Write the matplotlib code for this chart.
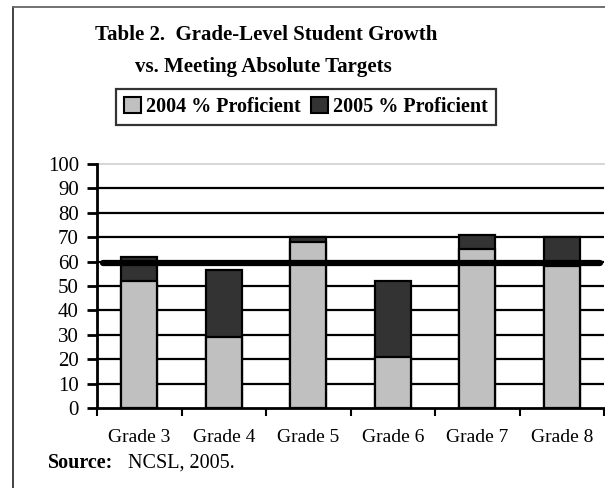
import matplotlib
matplotlib.use("Agg")
import matplotlib.pyplot as plt
from matplotlib.lines import Line2D
from matplotlib.patches import Patch
import numpy as np

categories = ["Grade 3", "Grade 4", "Grade 5", "Grade 6", "Grade 7", "Grade 8"]
pct_2004 = [52, 29, 68, 21, 65, 58]
pct_2005 = [62, 56.5, 70, 52, 71, 70]
target = 59.5
yticks = [0, 10, 20, 30, 40, 50, 60, 70, 80, 90, 100]

light = "#c0c0c0"
dark = "#333333"
serif = ["Liberation Serif", "DejaVu Serif"]
plt.rcParams["font.family"] = serif

W, H = 605, 488
fig = plt.figure(figsize=(W / 100, H / 100), dpi=100)

ax = fig.add_axes([97 / W, (H - 408) / H, (604 - 97) / W, (408 - 164) / H])
x = np.arange(len(categories))
ax.set_xlim(-0.5, len(categories) - 0.5)
ax.set_ylim(0, 100)

# gridlines
for t in yticks[1:-1]:
    ax.axhline(t, color="black", lw=1.6, zorder=1)
ax.axhline(100, color="#d0d0d0", lw=1.2, zorder=1, clip_on=False)

bw = 0.43
ax.bar(x, pct_2005, width=bw, color=dark, edgecolor="black", lw=1.6, zorder=2)
ax.bar(x, pct_2004, width=bw, color=light, edgecolor="black", lw=1.6, zorder=3)
ax.plot([-0.43, len(categories) - 0.55], [target, target], color="black", lw=4.5,
        solid_capstyle="round", zorder=4)

for s in ["top", "right"]:
    ax.spines[s].set_visible(False)
for s in ["left", "bottom"]:
    ax.spines[s].set_linewidth(2)
    ax.spines[s].set_zorder(5)

ax.set_yticks(yticks)
ax.set_yticklabels([str(t) for t in yticks], fontsize=15)
ax.tick_params(axis="y", direction="out", length=7, width=2, pad=6)
ax.set_xticks(np.arange(len(categories) + 1) - 0.5, minor=False)
ax.set_xticklabels([])
ax.tick_params(axis="x", direction="out", length=6, width=1.5)
for xi, c in zip(x, categories):
    ax.text(xi, -8.5, c, ha="center", va="top", fontsize=14, transform=ax.transData)

# frame
fig.add_artist(Line2D([13 / W, 13 / W], [0, 1 - 7 / H], color="#333333", lw=1.3,
                      transform=fig.transFigure))
fig.add_artist(Line2D([13 / W, 1], [1 - 7 / H, 1 - 7 / H], color="#666666", lw=1.3,
                      transform=fig.transFigure))

fig.text(266 / W, 1 - 35 / H, "Table 2.  Grade-Level Student Growth", ha="center",
         va="center", fontsize=15, fontweight="bold")
fig.text(263 / W, 1 - 67 / H, "vs. Meeting Absolute Targets", ha="center",
         va="center", fontsize=15, fontweight="bold")

handles = [Patch(facecolor=light, edgecolor="black", lw=1.5, label="2004 % Proficient"),
           Patch(facecolor=dark, edgecolor="black", lw=1.5, label="2005 % Proficient")]
leg = fig.legend(handles=handles, loc="center", bbox_to_anchor=(306 / W, 1 - 107 / H),
                 ncol=2, frameon=True, fancybox=False, edgecolor="black",
                 prop={"family": serif, "weight": "bold", "size": 14.5},
                 handlelength=0.85, handleheight=0.85, handletextpad=0.25,
                 columnspacing=0.5, borderpad=0.4)
leg.get_frame().set_linewidth(1.6)

fig.text(48 / W, 1 - 463 / H, "Source:", ha="left", va="center", fontsize=14.5,
         fontweight="bold")
fig.text(128 / W, 1 - 463 / H, "NCSL, 2005.", ha="left", va="center", fontsize=14.5)

fig.savefig("out.png", dpi=100)
